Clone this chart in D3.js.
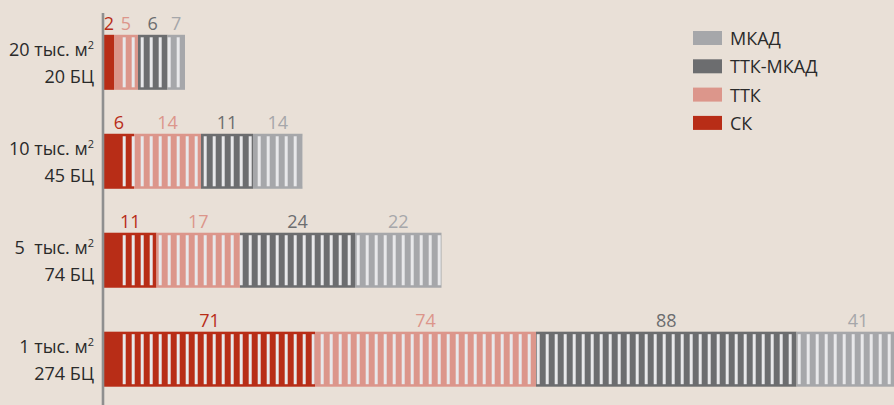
<!DOCTYPE html>
<html>
<head>
<meta charset="utf-8">
<script src="https://cdn.jsdelivr.net/npm/d3@7"></script>
<style>
  html, body { margin: 0; padding: 0; background: #e9e0d7; }
  svg { display: block; font-family: "Open Sans", "Noto Sans", sans-serif; }
</style>
</head>
<body>
<div class="chart"></div>
<script>
// rows, top to bottom
var areaLabels  = ["20 тыс. м", "10 тыс. м", "5  тыс. м", "1 тыс. м"];
var countLabels = ["20 БЦ", "45 БЦ", "74 БЦ", "274 БЦ"];

var seriesNames  = ["СК", "ТТК", "ТТК-МКАД", "МКАД"];
var seriesColors = ["#b82d17", "#dc968b", "#6c6d6f", "#a6a7aa"];

// number of business centres (labels over the bars)
var countSK      = [2, 6, 11, 71];
var countTTK     = [5, 14, 17, 74];
var countTTKMKAD = [6, 11, 24, 88];
var countMKAD    = [7, 14, 22, 41];

// drawn bar length of each segment
var lenSK      = [2.0, 6.0, 10.5, 42.2];
var lenTTK     = [4.8, 13.4, 16.7, 44.2];
var lenTTKMKAD = [5.9, 10.4, 23.0, 52.1];
var lenMKAD    = [3.5, 9.9, 17.3, 24.6];

var width = 894, height = 405;

var svg = d3.select(".chart")
  .append("svg")
    .attr("width", width)
    .attr("height", height);

svg.append("rect")
  .attr("width", width)
  .attr("height", height)
  .attr("fill", "#e9e0d7");

var rows = areaLabels.map(function(a, i) {
  return {
    area: a, count: countLabels[i],
    "СК": lenSK[i], "ТТК": lenTTK[i], "ТТК-МКАД": lenTTKMKAD[i], "МКАД": lenMKAD[i],
    n: [countSK[i], countTTK[i], countTTKMKAD[i], countMKAD[i]]
  };
});

var x = d3.scaleLinear()
  .domain([0, 158])
  .range([104, 894]);

var y = d3.scaleBand()
  .domain(areaLabels)
  .range([15, 406.5])
  .paddingInner(0.444)
  .paddingOuter(0.2);

var color = d3.scaleOrdinal().domain(seriesNames).range(seriesColors);

var stacked = d3.stack().keys(seriesNames)(rows);

// white stripe pattern, fixed to the page
var defs = svg.append("defs");
var pat = defs.append("pattern")
  .attr("id", "stripes")
  .attr("patternUnits", "userSpaceOnUse")
  .attr("x", 122.7)
  .attr("y", 0)
  .attr("width", 9)
  .attr("height", 10);
pat.append("rect")
  .attr("width", 3)
  .attr("height", 10)
  .attr("fill", "#e8e8ea");

var layers = svg.append("g").selectAll("g")
  .data(stacked)
  .join("g")
    .attr("fill", function(d) { return color(d.key); });

layers.selectAll("rect")
  .data(function(d) { return d; })
  .join("rect")
    .attr("x", function(d) { return x(d[0]); })
    .attr("y", function(d) { return y(d.data.area); })
    .attr("width", function(d) { return x(d[1]) - x(d[0]); })
    .attr("height", y.bandwidth());

// stripes start a bit after the axis
svg.append("g").selectAll("rect")
  .data(rows)
  .join("rect")
    .attr("x", 121)
    .attr("y", function(d) { return y(d.area) + 2.5; })
    .attr("width", function(d) { return x(d["СК"] + d["ТТК"] + d["ТТК-МКАД"] + d["МКАД"]) - 121; })
    .attr("height", y.bandwidth() - 5)
    .attr("fill", "url(#stripes)");

// value labels
layers.selectAll("text")
  .data(function(d, i) { return d.map(function(s) { return { s: s, i: i }; }); })
  .join("text")
    .attr("x", function(d) { return (x(d.s[0]) + x(d.s[1])) / 2; })
    .attr("y", function(d) { return y(d.s.data.area) - 5; })
    .attr("text-anchor", "middle")
    .attr("font-size", 18)
    .text(function(d) { return d.s.data.n[d.i]; });

// row labels
var lab = svg.append("g").selectAll("g")
  .data(rows)
  .join("g")
    .attr("transform", function(d) { return "translate(94," + (y(d.area) + y.bandwidth() / 2) + ")"; })
    .attr("fill", "#2a2a2a")
    .attr("font-size", 18)
    .attr("text-anchor", "end");

var t1 = lab.append("text")
  .attr("y", -6)
  .style("white-space", "pre");
t1.append("tspan").text(function(d) { return d.area; });
t1.append("tspan")
  .attr("font-size", 11)
  .attr("dy", -7)
  .text("2");

lab.append("text")
  .attr("y", 21)
  .text(function(d) { return d.count; });

// axis line
svg.append("line")
  .attr("x1", 103).attr("x2", 103)
  .attr("y1", 13).attr("y2", height)
  .attr("stroke", "#8f8f8f")
  .attr("stroke-width", 2.6);

// legend
var legend = svg.append("g")
  .attr("transform", "translate(693,31)")
  .selectAll("g")
  .data(seriesNames.slice().reverse())
  .join("g")
    .attr("transform", function(d, i) { return "translate(0," + i * 28.3 + ")"; });

legend.append("rect")
  .attr("width", 29)
  .attr("height", 14)
  .attr("fill", function(d) { return color(d); });

legend.append("text")
  .attr("x", 37)
  .attr("y", 14)
  .attr("font-size", 18)
  .attr("fill", "#2a2a2a")
  .text(function(d) { return d; });
</script>
</body>
</html>
